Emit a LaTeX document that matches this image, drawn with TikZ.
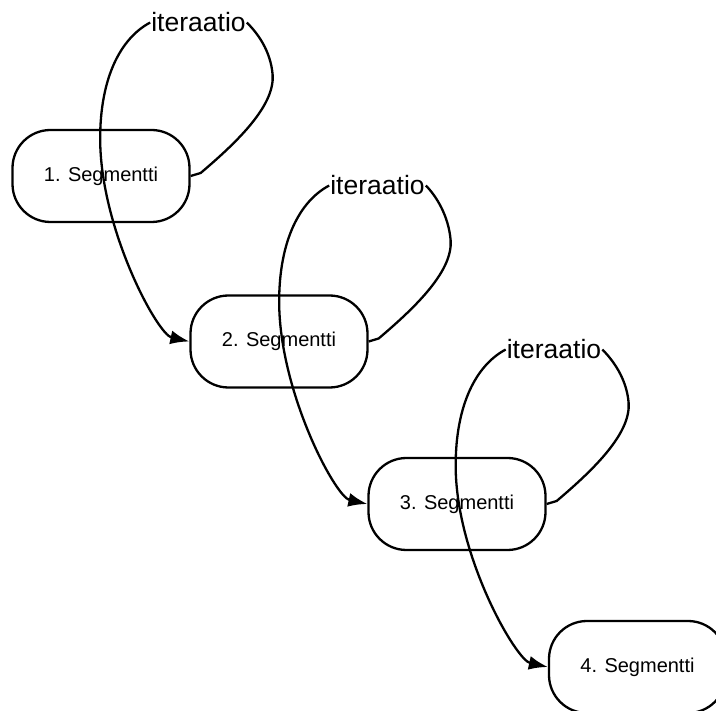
\documentclass[tikz,border=0pt]{standalone}
\usepackage{fontspec}
\setmainfont{Liberation Sans}
\usetikzlibrary{arrows.meta,calc}
\begin{document}
\begin{tikzpicture}[x=1pt,y=-1pt,
  seg/.style={draw,line width=2.3pt,rounded corners=38pt,minimum width=177pt,minimum height=92pt,inner sep=0pt,font=\fontsize{20}{22}\selectfont},
  lbl/.style={inner sep=1pt,font=\fontsize{26.5}{28}\selectfont,anchor=base},
  conn/.style={line width=2.3pt,-{Latex[length=19pt,width=14pt]}}]
\useasboundingbox (0,0) rectangle (716,711);
\node[seg] (n1) at (101,176) {1. Segmentti};
\node[seg] (n2) at (279,341.5) {2. Segmentti};
\node[seg] (n3) at (457,504) {3. Segmentti};
\node[seg] (n4) at (637.5,667) {4. Segmentti};
\node[lbl] (l1) at (198.5,32) {iteraatio};
\node[lbl] (l2) at (377.5,195) {iteraatio};
\node[lbl] (l3) at (554,359) {iteraatio};
\foreach \a/\l/\b in {n1/l1/n2,n2/l2/n3,n3/l3/n4}{
  \draw[conn] (\a.east) -- ++(10,-3)
    .. controls +(39,-33) and +(2,30) .. ++(72,-98)
    .. controls +(-2,-25) and +(10,10) .. (\l.east)
    (\l.west) .. controls +(-30,16) and +(0,-60) .. ++(-50,116)
    .. controls +(0,90) and +(-32,-7) .. (\b.west);
}
\end{tikzpicture}
\end{document}
